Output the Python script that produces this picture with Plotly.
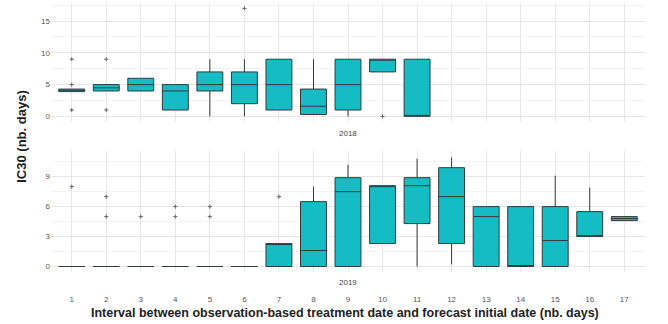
import plotly.graph_objects as go

categories = list(range(1, 18))

# 2018 panel (intervals 1..11)
x18 = [1, 2, 3, 4, 5, 6, 7, 8, 9, 10, 11]
q1_18 = [3.9, 4.0, 4.0, 1.0, 4.0, 2.0, 1.0, 0.3, 1.0, 7.0, 0.0]
med_18 = [4.1, 4.5, 5.0, 4.0, 5.0, 5.0, 5.0, 1.6, 5.0, 9.0, 0.0]
q3_18 = [4.3, 5.0, 6.0, 5.0, 7.0, 7.0, 9.0, 4.3, 9.0, 9.0, 9.0]
lo_18 = [3.9, 4.0, 4.0, 1.0, 0.0, 0.0, 1.0, 0.3, 0.0, 7.0, 0.0]
hi_18 = [4.3, 5.0, 6.0, 5.0, 9.0, 9.0, 9.0, 9.0, 9.0, 9.0, 9.0]
out18_x = [1, 1, 1, 2, 2, 6, 10]
out18_y = [9, 5, 1, 9, 1, 17, 0]

# 2019 panel (intervals 1..17)
x19 = list(range(1, 18))
q1_19 = [0, 0, 0, 0, 0, 0, 0, 0, 0, 2.3, 4.3, 2.3, 0, 0, 0, 3.0, 4.6]
med_19 = [0, 0, 0, 0, 0, 0, 2.3, 1.6, 7.5, 8.0, 8.1, 7.0, 5.0, 0, 2.6, 3.1, 4.8]
q3_19 = [0, 0, 0, 0, 0, 0, 2.3, 6.5, 8.9, 8.1, 8.9, 9.9, 6.0, 6.0, 6.0, 5.5, 5.0]
lo_19 = [0, 0, 0, 0, 0, 0, 0, 0, 0, 2.3, 0, 0.2, 0, 0, 0, 3.0, 4.6]
hi_19 = [0, 0, 0, 0, 0, 0, 2.3, 8.0, 10.2, 8.1, 10.8, 10.9, 6.0, 6.0, 9.1, 7.9, 5.0]
out19_x = [1, 2, 2, 3, 4, 4, 5, 5, 7]
out19_y = [8, 7, 5, 5, 6, 5, 6, 5, 7]

fill = "#16BCC4"
edge = "#2f3b3c"
FONT = "Liberation Sans, Arial, sans-serif"

fig = go.Figure()

fig.add_trace(go.Box(
    x=x18, q1=q1_18, median=med_18, q3=q3_18,
    lowerfence=lo_18, upperfence=hi_18,
    fillcolor=fill, line=dict(color=edge, width=1),
    whiskerwidth=0, width=0.75, boxpoints=False,
    xaxis="x", yaxis="y", showlegend=False, hoverinfo="skip"))
fig.add_trace(go.Scatter(
    x=out18_x, y=out18_y, mode="markers",
    marker=dict(symbol="cross-thin", size=3, line=dict(color="#666", width=1)),
    xaxis="x", yaxis="y", showlegend=False, hoverinfo="skip"))

fig.add_trace(go.Box(
    x=x19, q1=q1_19, median=med_19, q3=q3_19,
    lowerfence=lo_19, upperfence=hi_19,
    fillcolor=fill, line=dict(color=edge, width=1),
    whiskerwidth=0, width=0.75, boxpoints=False,
    xaxis="x2", yaxis="y2", showlegend=False, hoverinfo="skip"))
fig.add_trace(go.Scatter(
    x=out19_x, y=out19_y, mode="markers",
    marker=dict(symbol="cross-thin", size=3, line=dict(color="#666", width=1)),
    xaxis="x2", yaxis="y2", showlegend=False, hoverinfo="skip"))

grid_major = "#e6e6e6"
grid_minor = "#f3f3f3"
tickfont = dict(family=FONT, size=8, color="#555")

xcommon = dict(range=[0.4, 17.6], tickvals=categories, showgrid=True,
               gridcolor=grid_major, gridwidth=1, zeroline=False,
               showline=False, tickfont=tickfont, automargin=False)

PT, PB = 3, 272.5   # plot area top / bottom in pixels
PH = PB - PT


def py(pix):
    return (PB - pix) / PH


fig.update_layout(
    width=668, height=324,
    margin=dict(l=51, r=23, t=PT, b=324 - PB, pad=0, autoexpand=False),
    paper_bgcolor="white", plot_bgcolor="white",
    hovermode=False,
    xaxis=dict(domain=[0, 1], anchor="y", showticklabels=False, **xcommon),
    xaxis2=dict(domain=[0, 1], anchor="y2", showticklabels=True,
                ticktext=[str(c) for c in categories],
                ticks="outside", ticklen=19, tickcolor="rgba(0,0,0,0)",
                **xcommon),
    yaxis=dict(domain=[py(122), 1], anchor="x", range=[-0.85, 17.85],
               tickvals=[0, 5, 10, 15], showgrid=True, gridcolor=grid_major,
               zeroline=False, tickfont=tickfont, automargin=False,
               minor=dict(tickvals=[2.5, 7.5, 12.5, 17.5], showgrid=True,
                          gridcolor=grid_minor)),
    yaxis2=dict(domain=[0, py(151.5)], anchor="x2", range=[-0.55, 11.55],
                tickvals=[0, 3, 6, 9], showgrid=True, gridcolor=grid_major,
                zeroline=False, tickfont=tickfont, automargin=False,
                minor=dict(tickvals=[1.5, 4.5, 7.5, 10.5], showgrid=True,
                           gridcolor=grid_minor)),
    annotations=[
        dict(text="2018", xref="paper", yref="paper", x=0.5, y=py(134),
             xanchor="center", yanchor="middle",
             showarrow=False, font=dict(family=FONT, size=8, color="#444")),
        dict(text="2019", xref="paper", yref="paper", x=0.5, y=py(283),
             xanchor="center", yanchor="middle",
             showarrow=False, font=dict(family=FONT, size=8, color="#444")),
        dict(text="<b>IC30 (nb. days)</b>", xref="paper", yref="paper",
             x=-(51 - 22) / 594, y=py(137), textangle=-90,
             xanchor="center", yanchor="middle",
             showarrow=False, font=dict(family=FONT, size=13, color="#222")),
        dict(text="<b>Interval between observation-based treatment date and forecast initial date (nb. days)</b>",
             xref="paper", yref="paper", x=(345 - 51) / 594, y=py(314),
             xanchor="center", yanchor="middle",
             showarrow=False, font=dict(family=FONT, size=12.5, color="#222")),
    ],
)

fig.write_html("out.html",
               config={"displayModeBar": False},
               post_script="document.body.style.margin='0';document.body.style.overflow='hidden';")
